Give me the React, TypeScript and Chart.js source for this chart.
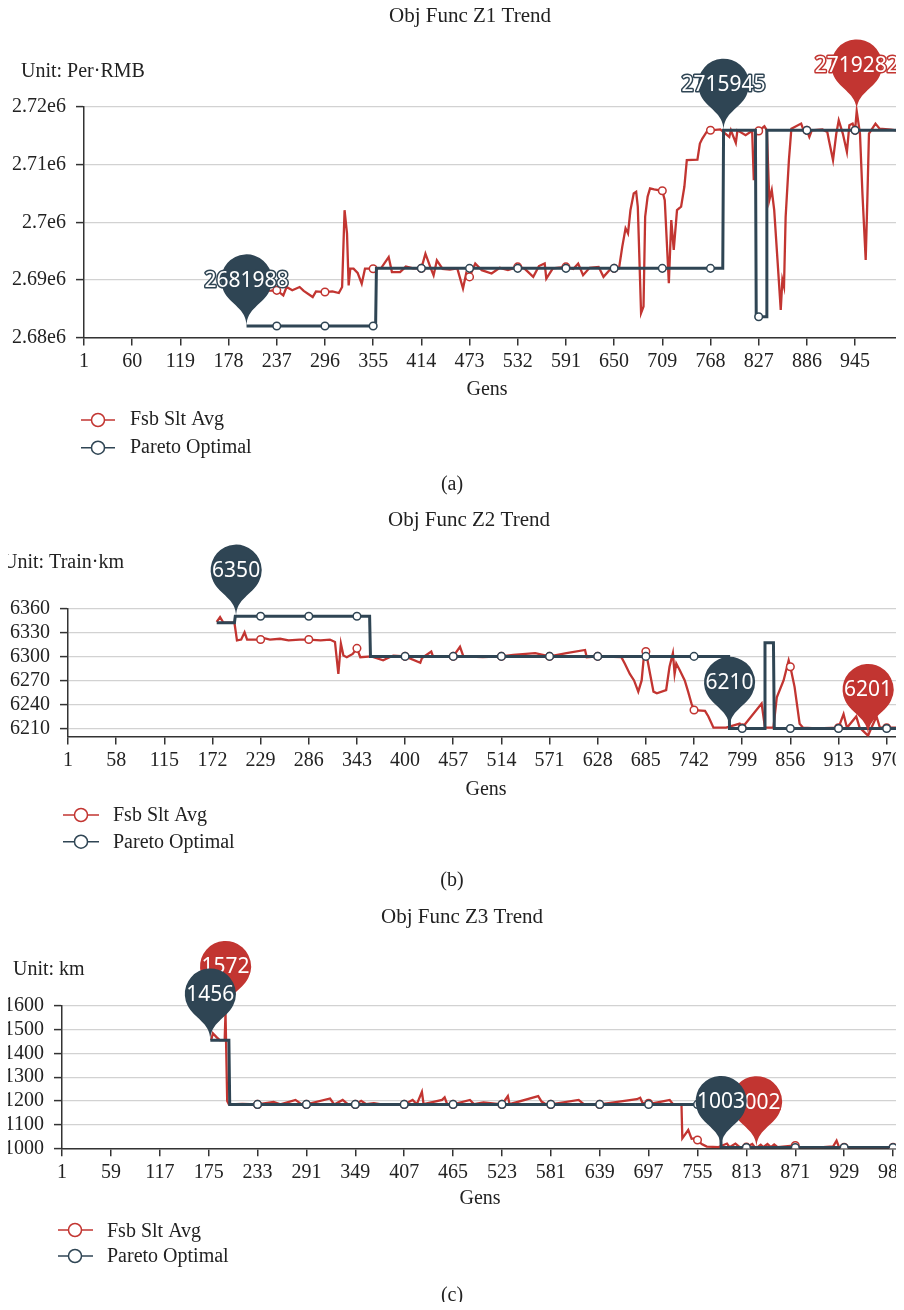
import React, { useEffect, useRef } from 'react';
import { Chart, registerables } from 'chart.js';

Chart.register(...registerables);

const RED = '#c23531';
const DARK = '#2f4554';
const SERIES_NAMES = ['Fsb Slt Avg', 'Pareto Optimal'];

// ---------- Panel (a): Obj Func Z1 ----------
const z1XTicks = [1, 60, 119, 178, 237, 296, 355, 414, 473, 532, 591, 650, 709, 768, 827, 886, 945];
const z1YTicks = [2680000, 2690000, 2700000, 2710000, 2720000];
const z1AvgGen = [190, 200, 215, 230, 237, 245, 249, 256, 265, 270, 281, 285, 296, 305, 313, 317, 320, 323, 325, 327, 331, 336, 341, 345, 355, 365, 374, 378, 388, 395, 404, 414, 419, 425, 429, 433, 440, 449, 458, 465, 469, 473, 480, 488, 500, 510, 520, 532, 540, 551, 558, 565, 567, 575, 591, 600, 606, 612, 620, 631, 637, 645, 650, 656, 660, 664, 667, 670, 674, 677, 679, 683, 686, 688, 691, 694, 699, 709, 712, 717, 720, 723, 727, 732, 736, 739, 752, 755, 758, 764, 768, 780, 791, 793, 799, 801, 811, 819, 821, 824, 827, 834, 837, 840, 843, 846, 850, 854, 856, 858, 860, 864, 867, 879, 882, 886, 889, 892, 905, 911, 913, 918, 922, 925, 930, 935, 938, 942, 945, 947, 951, 954, 958, 960, 962, 970, 975, 989, 1000];
const z1AvgVal = [2688000, 2688300, 2688100, 2688130, 2688180, 2687310, 2688760, 2688200, 2688760, 2688100, 2687020, 2688000, 2687890, 2688000, 2687720, 2688760, 2702090, 2698030, 2689050, 2691940, 2691940, 2691200, 2689340, 2691940, 2691940, 2692100, 2693970, 2691360, 2691360, 2692300, 2692000, 2692000, 2694550, 2692230, 2690780, 2693390, 2691900, 2691800, 2692000, 2688500, 2691200, 2690520, 2692840, 2691680, 2691100, 2692100, 2691700, 2692260, 2692000, 2690520, 2692400, 2692840, 2690230, 2692000, 2692260, 2691900, 2692840, 2690810, 2692100, 2692260, 2690520, 2691800, 2692000, 2692000, 2695770, 2698940, 2698070, 2702110, 2705000, 2705290, 2702690, 2684230, 2685380, 2700960, 2704420, 2705860, 2705690, 2705460, 2703840, 2689420, 2700380, 2695190, 2702110, 2702690, 2706150, 2710770, 2710880, 2713650, 2714520, 2715850, 2715960, 2716100, 2714810, 2715960, 2713770, 2715960, 2715100, 2715850, 2707310, 2715960, 2715850, 2716650, 2715960, 2703840, 2705570, 2702110, 2693460, 2684800, 2690000, 2688840, 2700960, 2710770, 2716250, 2717120, 2715960, 2715960, 2714810, 2715960, 2716100, 2715670, 2714230, 2710770, 2715380, 2717690, 2715380, 2712210, 2716830, 2717120, 2715960, 2719282, 2715380, 2705000, 2693460, 2703840, 2715380, 2717120, 2716250, 2716080, 2715850];
const z1ParGen = [200, 237, 296, 355, 358, 359, 414, 473, 532, 591, 650, 709, 768, 783, 784, 823, 824, 827, 836, 837, 886, 945, 1000];
const z1ParVal = [2681988, 2681988, 2681988, 2681988, 2681988, 2692000, 2692000, 2692000, 2692000, 2692000, 2692000, 2692000, 2692000, 2692000, 2715945, 2715945, 2683600, 2683600, 2683600, 2715945, 2715945, 2715945, 2715945];
const z1AvgPinGen = [947];
const z1AvgPinVal = [2719282];
const z1ParPinGen = [200, 784];
const z1ParPinVal = [2681988, 2715945];

// ---------- Panel (b): Obj Func Z2 ----------
const z2XTicks = [1, 58, 115, 172, 229, 286, 343, 400, 457, 514, 571, 628, 685, 742, 799, 856, 913, 970];
const z2YTicks = [6210, 6240, 6270, 6300, 6330, 6360];
const z2AvgGen = [177, 181, 185, 198, 201, 206, 210, 213, 229, 232, 240, 252, 262, 275, 286, 300, 311, 317, 321, 324, 327, 331, 338, 343, 347, 360, 374, 386, 400, 418, 420, 431, 433, 457, 465, 469, 492, 514, 528, 554, 571, 591, 613, 615, 628, 656, 660, 666, 671, 676, 680, 683, 685, 690, 694, 698, 709, 713, 717, 719, 721, 725, 731, 735, 739, 742, 755, 759, 765, 780, 796, 799, 822, 826, 836, 840, 848, 854, 856, 861, 867, 871, 887, 913, 919, 923, 934, 938, 948, 952, 958, 962, 970, 1000];
const z2AvgVal = [6343, 6349, 6342, 6342, 6320, 6321, 6330, 6321, 6321, 6323, 6321, 6322, 6320, 6321, 6321, 6320, 6321, 6318, 6278, 6316, 6301, 6299, 6303, 6310, 6299, 6300, 6295, 6301, 6300, 6292, 6298, 6306, 6300, 6300, 6312, 6300, 6299, 6300, 6302, 6304, 6300, 6304, 6308, 6299, 6300, 6299, 6291, 6278, 6270, 6256, 6270, 6304, 6306, 6278, 6256, 6254, 6258, 6287, 6304, 6278, 6291, 6283, 6270, 6256, 6241, 6233, 6232, 6225, 6211, 6211, 6216, 6211, 6241, 6211, 6211, 6249, 6270, 6295, 6287, 6262, 6216, 6211, 6210, 6211, 6228, 6211, 6225, 6211, 6201, 6211, 6225, 6211, 6211, 6211];
const z2ParGen = [177, 198, 199, 229, 286, 343, 358, 359, 400, 457, 514, 571, 628, 685, 742, 783, 784, 799, 825, 826, 836, 837, 856, 913, 970, 1000];
const z2ParVal = [6342, 6342, 6350, 6350, 6350, 6350, 6350, 6300, 6300, 6300, 6300, 6300, 6300, 6300, 6300, 6300, 6210, 6210, 6210, 6317, 6317, 6210, 6210, 6210, 6210, 6210];
const z2AvgPinGen = [948];
const z2AvgPinVal = [6201];
const z2ParPinGen = [200, 784];
const z2ParPinVal = [6350, 6210];

// ---------- Panel (c): Obj Func Z3 ----------
const z3XTicks = [1, 59, 117, 175, 233, 291, 349, 407, 465, 523, 581, 639, 697, 755, 813, 871, 929, 987];
const z3YTicks = [1000, 1100, 1200, 1300, 1400, 1500, 1600];
const z3AvgGen = [178, 180, 184, 188, 194, 195, 197, 199, 215, 233, 252, 260, 278, 285, 291, 319, 324, 334, 340, 349, 356, 362, 371, 380, 407, 417, 422, 428, 430, 452, 455, 458, 465, 485, 490, 501, 523, 530, 532, 566, 570, 575, 581, 614, 620, 639, 683, 687, 690, 697, 703, 722, 726, 736, 737, 744, 748, 751, 755, 760, 766, 780, 790, 793, 800, 805, 813, 820, 823, 825, 830, 833, 838, 842, 846, 850, 871, 875, 900, 916, 920, 923, 929, 960, 987, 1000];
const z3AvgVal = [1456, 1485, 1470, 1456, 1456, 1572, 1200, 1185, 1187, 1185, 1195, 1185, 1204, 1186, 1185, 1210, 1185, 1204, 1186, 1185, 1200, 1186, 1190, 1185, 1185, 1204, 1186, 1238, 1186, 1204, 1215, 1186, 1185, 1204, 1186, 1193, 1185, 1220, 1186, 1220, 1197, 1186, 1185, 1204, 1186, 1185, 1207, 1213, 1190, 1190, 1190, 1204, 1186, 1183, 1042, 1077, 1040, 1042, 1035, 1018, 1007, 1005, 1020, 1005, 1020, 1005, 1005, 1018, 1005, 1002, 1015, 1005, 1018, 1005, 1016, 1005, 1012, 1005, 1004, 1008, 1032, 1004, 1004, 1004, 1004, 1004];
const z3ParGen = [177, 199, 200, 233, 291, 349, 407, 465, 523, 581, 639, 697, 755, 782, 783, 813, 871, 929, 987, 1000];
const z3ParVal = [1456, 1456, 1185, 1185, 1185, 1185, 1185, 1185, 1185, 1185, 1185, 1185, 1185, 1185, 1003, 1003, 1003, 1003, 1003, 1003];
const z3AvgPinGen = [195, 825];
const z3AvgPinVal = [1572, 1002];
const z3ParPinGen = [177, 783];
const z3ParPinVal = [1456, 1003];

// ---------- layout ----------
const CW = 920;
const panels = [
  {
    top: 0, h: 500, L: 84, T: 107, R: 20, B: 122.5, yMin: 2680000, yMax: 2720000,
    xTicks: z1XTicks, yTicks: z1YTicks,
    avg: [z1AvgGen, z1AvgVal], par: [z1ParGen, z1ParVal],
    avgPins: [z1AvgPinGen, z1AvgPinVal], parPins: [z1ParPinGen, z1ParPinVal],
    yFmt: (v: number) => `${+(v / 1e6).toFixed(2)}e6`,
    title: 'Obj Func Z1 Trend', titleX: 470, titleY: 22,
    unit: 'Unit: Per·RMB', unitX: 21, unitY: 77,
    gensX: 487, gensY: 395,
    legLine: [81, 115], legCircle: 98, legText: 130, legIcon: [420, 447.7], legBase: [425, 452.7],
    caption: '(a)', capY: 490,
  },
  {
    top: 500, h: 400, L: 68, T: 108.3, R: 8, B: 123.5, yMin: 6200, yMax: 6360,
    xTicks: z2XTicks, yTicks: z2YTicks,
    avg: [z2AvgGen, z2AvgVal], par: [z2ParGen, z2ParVal],
    avgPins: [z2AvgPinGen, z2AvgPinVal], parPins: [z2ParPinGen, z2ParPinVal],
    yFmt: (v: number) => String(v),
    title: 'Obj Func Z2 Trend', titleX: 469, titleY: 26,
    unit: 'Unit: Train·km', unitX: 3, unitY: 68,
    gensX: 486, gensY: 295,
    legLine: [63, 99], legCircle: 81, legText: 113, legIcon: [315, 341.7], legBase: [321, 347.7],
    caption: '(b)', capY: 386,
  },
  {
    top: 900, h: 410, L: 62, T: 106, R: 16, B: 121.7, yMin: 1000, yMax: 1600,
    xTicks: z3XTicks, yTicks: z3YTicks,
    avg: [z3AvgGen, z3AvgVal], par: [z3ParGen, z3ParVal],
    avgPins: [z3AvgPinGen, z3AvgPinVal], parPins: [z3ParPinGen, z3ParPinVal],
    yFmt: (v: number) => String(v),
    title: 'Obj Func Z3 Trend', titleX: 462, titleY: 23,
    unit: 'Unit: km', unitX: 13, unitY: 75,
    gensX: 480, gensY: 304,
    legLine: [58, 93], legCircle: 75, legText: 107, legIcon: [330, 356], legBase: [336.7, 362.3],
    caption: '(c)', capY: 401,
  },
];

const SERIF = '"Liberation Serif", "Times New Roman", serif';
const TEXT = '#222';

function drawPin(ctx: CanvasRenderingContext2D, x: number, y: number, color: string, text: string) {
  const r = 25.5;
  const h = 83;
  const dy = (r * r) / (h - r);
  const cy = y - h + r + dy;
  const angle = Math.asin(dy / r);
  const dx = Math.cos(angle) * r;
  const tanX = Math.sin(angle);
  const tanY = Math.cos(angle);
  const cp = r * 0.6;
  const cp2 = r * 0.7;
  ctx.beginPath();
  ctx.moveTo(x - dx, cy + dy);
  ctx.arc(x, cy, r, Math.PI - angle, Math.PI * 2 + angle);
  ctx.bezierCurveTo(x + dx - tanX * cp, cy + dy + tanY * cp, x, y - cp2, x, y);
  ctx.bezierCurveTo(x, y - cp2, x - dx + tanX * cp, cy + dy + tanY * cp, x - dx, cy + dy);
  ctx.closePath();
  ctx.fillStyle = color;
  ctx.fill();
  ctx.font = '21px "Noto Sans", "DejaVu Sans", sans-serif';
  ctx.textAlign = 'center';
  ctx.textBaseline = 'middle';
  ctx.lineJoin = 'round';
  ctx.lineWidth = 3;
  ctx.strokeStyle = color;
  ctx.strokeText(text, x, cy + 1);
  ctx.fillStyle = '#fff';
  ctx.fillText(text, x, cy + 1);
}

function buildConfig(p: any): any {
  const tickSet = new Set<number>(p.xTicks);
  const toPts = (g: number[], v: number[]) => g.map((x, i) => ({ x, y: v[i] }));
  const radius = (ctx: any) => (ctx.raw && tickSet.has(ctx.raw.x) ? 3.8 : 0);
  const font = { family: SERIF, size: 20 };

  const pinPlugin = {
    id: 'pins',
    afterDatasetsDraw(chart: any) {
      const ctx = chart.ctx as CanvasRenderingContext2D;
      const xs = chart.scales.x;
      const ys = chart.scales.y;
      ctx.save();
      const groups: [number[][], string][] = [[p.avgPins, RED], [p.parPins, DARK]];
      for (const [[gens, vals], color] of groups) {
        gens.forEach((g: number, i: number) => {
          drawPin(ctx, xs.getPixelForValue(g), ys.getPixelForValue(vals[i]), color, String(vals[i]));
        });
      }
      ctx.restore();
    },
  };

  const decorPlugin = {
    id: 'decor',
    afterDraw(chart: any) {
      const ctx = chart.ctx as CanvasRenderingContext2D;
      ctx.save();
      ctx.fillStyle = TEXT;
      ctx.textBaseline = 'alphabetic';
      ctx.font = `21px ${SERIF}`;
      ctx.textAlign = 'center';
      ctx.fillText(p.title, p.titleX, p.titleY);
      ctx.font = `20px ${SERIF}`;
      ctx.textAlign = 'left';
      ctx.fillText(p.unit, p.unitX, p.unitY);
      ctx.textAlign = 'center';
      ctx.fillText('Gens', p.gensX, p.gensY);
      ctx.fillText(p.caption, 452, p.capY);
      [RED, DARK].forEach((color, i) => {
        const iy = p.legIcon[i];
        ctx.strokeStyle = color;
        ctx.lineWidth = 1.5;
        ctx.beginPath();
        ctx.moveTo(p.legLine[0], iy);
        ctx.lineTo(p.legLine[1], iy);
        ctx.stroke();
        ctx.beginPath();
        ctx.arc(p.legCircle, iy, 6.5, 0, Math.PI * 2);
        ctx.fillStyle = '#fff';
        ctx.fill();
        ctx.stroke();
        ctx.fillStyle = TEXT;
        ctx.textAlign = 'left';
        ctx.fillText(SERIES_NAMES[i], p.legText, p.legBase[i]);
      });
      ctx.restore();
    },
  };

  return {
    type: 'line',
    data: {
      datasets: [
        {
          label: SERIES_NAMES[1],
          data: toPts(p.par[0], p.par[1]),
          borderColor: DARK,
          borderWidth: 3,
          tension: 0,
          pointRadius: radius,
          pointHoverRadius: 0,
          pointBackgroundColor: '#fff',
          pointBorderColor: DARK,
          pointBorderWidth: 1.5,
          order: 0,
        },
        {
          label: SERIES_NAMES[0],
          data: toPts(p.avg[0], p.avg[1]),
          borderColor: RED,
          borderWidth: 2.3,
          tension: 0,
          pointRadius: radius,
          pointHoverRadius: 0,
          pointBackgroundColor: '#fff',
          pointBorderColor: RED,
          pointBorderWidth: 1.5,
          order: 1,
        },
      ],
    },
    options: {
      animation: false,
      responsive: false,
      events: [],
      layout: { padding: { left: 0, top: p.T, right: p.R, bottom: p.B } },
      plugins: { legend: { display: false }, tooltip: { enabled: false }, title: { display: false } },
      scales: {
        x: {
          type: 'linear',
          min: 1,
          max: 1000,
          afterBuildTicks: (s: any) => {
            s.ticks = p.xTicks.map((v: number) => ({ value: v }));
          },
          afterFit: (s: any) => {
            s.height = 40;
          },
          grid: { drawOnChartArea: false, drawTicks: true, tickLength: 8, color: '#333', lineWidth: 1.5 },
          border: { display: true, color: '#333', width: 1.5 },
          ticks: { autoSkip: false, maxRotation: 0, padding: 4, font, color: TEXT, callback: (v: any) => String(v) },
        },
        y: {
          type: 'linear',
          min: p.yMin,
          max: p.yMax,
          afterBuildTicks: (s: any) => {
            s.ticks = p.yTicks.map((v: number) => ({ value: v }));
          },
          afterFit: (s: any) => {
            s.width = p.L;
          },
          grid: { color: '#d2d2d2', lineWidth: 1.2, tickLength: 8, tickColor: '#333', tickWidth: 1.5, drawTicks: true },
          border: { display: true, color: '#333', width: 1.5 },
          ticks: { autoSkip: false, padding: 10, font, color: TEXT, callback: (v: any) => p.yFmt(v) },
        },
      },
    },
    plugins: [pinPlugin, decorPlugin],
  };
}

function Panel({ p }: { p: any }) {
  const ref = useRef<HTMLCanvasElement>(null);
  useEffect(() => {
    const chart = new Chart(ref.current as HTMLCanvasElement, buildConfig(p));
    return () => chart.destroy();
  }, [p]);
  return (
    <canvas
      ref={ref}
      width={CW}
      height={p.h}
      style={{ position: 'absolute', left: 0, top: p.top, width: CW, height: p.h, display: 'block' }}
    />
  );
}

export default function App() {
  return (
    <div style={{ position: 'relative', width: 904, height: 1310, margin: -8, overflow: 'hidden', background: '#fff' }}>
      {panels.map((p, i) => (
        <Panel key={i} p={p} />
      ))}
    </div>
  );
}
